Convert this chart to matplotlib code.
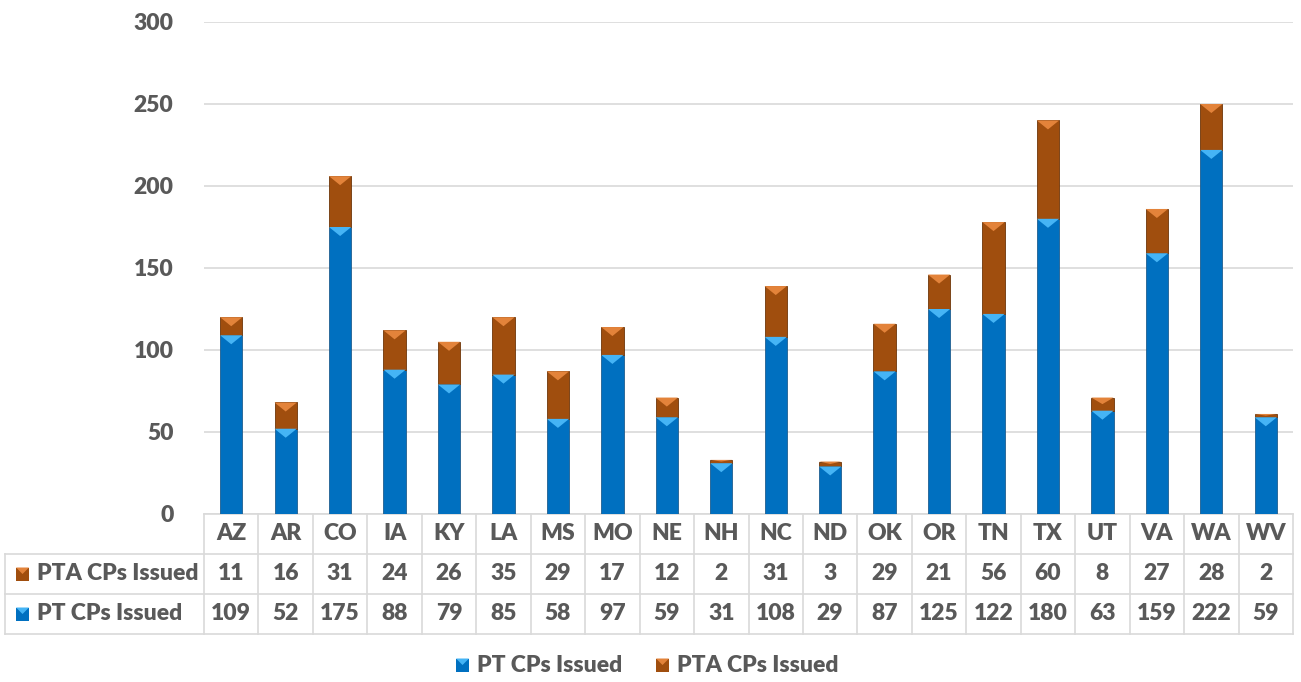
import numpy as np
import matplotlib.pyplot as plt
from matplotlib.patches import Polygon, Rectangle
import matplotlib.transforms as mtrans

plt.rcParams['font.family'] = ['Lato', 'DejaVu Sans']
plt.rcParams['font.weight'] = 'bold'

# 数据
states = ['AZ', 'AR', 'CO', 'IA', 'KY', 'LA', 'MS', 'MO', 'NE', 'NH',
          'NC', 'ND', 'OK', 'OR', 'TN', 'TX', 'UT', 'VA', 'WA', 'WV']
pt_cps = [109, 52, 175, 88, 79, 85, 58, 97, 59, 31, 108, 29, 87, 125, 122, 180, 63, 159, 222, 59]
pta_cps = [11, 16, 31, 24, 26, 35, 29, 17, 12, 2, 31, 3, 29, 21, 56, 60, 8, 27, 28, 2]

c_pt = '#0070C0'
c_pt_light = '#45B4F5'
c_pta = '#A04E0E'
c_pta_light = '#E3833A'
txt_c = '#595959'
grid_c = '#D9D9D9'

fig = plt.figure(figsize=(13.01, 6.82), dpi=100)
ax = fig.add_axes([204/1301, 168/682, 1089/1301, 492/682])

x = np.arange(len(states))
w = 0.41
pt = np.array(pt_cps)
pta = np.array(pta_cps)

ax.bar(x, pt, w, color=c_pt, edgecolor='#1F5E8F', linewidth=0.6, zorder=3)
ax.bar(x, pta, w, bottom=pt, color=c_pta, edgecolor='#6E3508', linewidth=0.6, zorder=3)

# 顶部斜面效果
bev = 5.5
for xi, b, t, lc in [(xi, 0, pt[i], c_pt_light) for i, xi in enumerate(x)] + \
                     [(xi, pt[i], pt[i] + pta[i], c_pta_light) for i, xi in enumerate(x)]:
    h = min(bev, (t - b) * 0.5)
    ax.add_patch(Polygon([(xi - w/2, t), (xi + w/2, t), (xi, t - h)],
                         closed=True, color=lc, lw=0, zorder=4))

ax.set_xlim(-0.5, len(states) - 0.5)
ax.set_ylim(0, 300)
ax.set_yticks(range(0, 301, 50))
ax.yaxis.grid(True, color=grid_c, linewidth=1.2, zorder=0)
ax.set_axisbelow(True)
ax.tick_params(axis='y', length=0, pad=22, labelsize=16.5, labelcolor=txt_c)
ax.tick_params(axis='x', length=0, labelbottom=False)
for s in ['top', 'right', 'left', 'bottom']:
    ax.spines[s].set_visible(False)
for lab in ax.get_yticklabels():
    lab.set_fontweight('heavy')

# 数据表
tr = mtrans.blended_transform_factory(ax.transData, ax.transAxes)
rh = 40 / 492
fs = 16.5
fw = 'heavy'
lw = 1.2
# 竖线
for b in np.arange(-0.5, len(states) + 0.5, 1):
    ax.plot([b, b], [0, -3 * rh], transform=tr, color=grid_c, lw=lw, clip_on=False)
# 横线
ax.plot([-0.5, len(states) - 0.5], [0, 0], transform=tr, color=grid_c, lw=lw, clip_on=False)
left_ax = (5 - 204) / 1089
for k in [1, 2, 3]:
    ax.plot([left_ax, 1], [-k * rh, -k * rh], transform=ax.transAxes, color=grid_c, lw=lw, clip_on=False)
ax.plot([left_ax, left_ax], [-rh, -3 * rh], transform=ax.transAxes, color=grid_c, lw=lw, clip_on=False)

for i, s in enumerate(states):
    ax.text(i, -0.5 * rh, s, transform=tr, ha='center', va='center', fontsize=fs, color=txt_c, fontweight=fw)
    ax.text(i, -1.5 * rh, str(pta_cps[i]), transform=tr, ha='center', va='center', fontsize=fs, color=txt_c, fontweight=fw)
    ax.text(i, -2.5 * rh, str(pt_cps[i]), transform=tr, ha='center', va='center', fontsize=fs, color=txt_c, fontweight=fw)

def marker(axx, axy, fc, lc, trans):
    s = 13 / 1089
    sh = 13 / 492
    axx.add_patch(Rectangle((axy[0], axy[1] - sh/2), s, sh, transform=trans, facecolor=fc,
                            edgecolor='none', clip_on=False, zorder=5))
    axx.add_patch(Polygon([(axy[0], axy[1] + sh/2), (axy[0] + s, axy[1] + sh/2), (axy[0] + s/2, axy[1])],
                          closed=True, transform=trans, facecolor=lc, edgecolor='none', clip_on=False, zorder=6))

marker(ax, ((16 - 204) / 1089, -1.5 * rh), c_pta, c_pta_light, ax.transAxes)
marker(ax, ((16 - 204) / 1089, -2.5 * rh), c_pt, c_pt_light, ax.transAxes)
ax.text((37 - 204) / 1089, -1.5 * rh, 'PTA CPs Issued', transform=ax.transAxes, ha='left', va='center',
        fontsize=fs, color=txt_c, fontweight=fw)
ax.text((37 - 204) / 1089, -2.5 * rh, 'PT CPs Issued', transform=ax.transAxes, ha='left', va='center',
        fontsize=fs, color=txt_c, fontweight=fw)

# 图例
ly = (665 - 514) / -492
marker(ax, ((456 - 204) / 1089, ly), c_pt, c_pt_light, ax.transAxes)
ax.text((477 - 204) / 1089, ly, 'PT CPs Issued', transform=ax.transAxes, ha='left', va='center',
        fontsize=fs, color=txt_c, fontweight=fw)
marker(ax, ((656 - 204) / 1089, ly), c_pta, c_pta_light, ax.transAxes)
ax.text((677 - 204) / 1089, ly, 'PTA CPs Issued', transform=ax.transAxes, ha='left', va='center',
        fontsize=fs, color=txt_c, fontweight=fw)

fig.savefig('out.png', dpi=100)
